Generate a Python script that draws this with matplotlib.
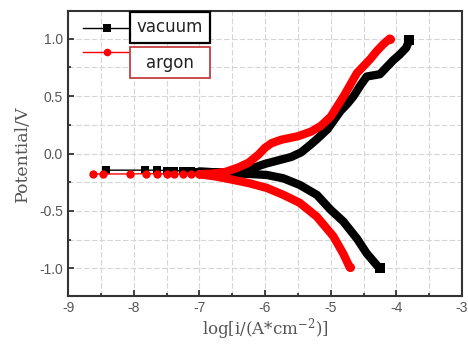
import matplotlib
matplotlib.use("Agg")
import matplotlib.pyplot as plt
from matplotlib.lines import Line2D
from matplotlib.patches import Rectangle
from matplotlib.ticker import MultipleLocator

# ---- data (log i, potential) ----
vac_cath_x = [-7.0, -6.7, -6.5, -6.23, -5.97, -5.72, -5.47, -5.21, -5.0, -4.81, -4.6, -4.45, -4.3, -4.25]
vac_cath_E = [-0.158, -0.165, -0.172, -0.178, -0.187, -0.216, -0.274, -0.36, -0.49, -0.59, -0.74, -0.87, -0.97, -1.0]
vac_near_x = [-8.42, -7.82, -7.65, -7.5, -7.38, -7.25, -7.12, -7.0]
vac_near_E = [-0.145, -0.145, -0.145, -0.148, -0.15, -0.15, -0.155, -0.158]
vac_anod_x = [-7.0, -6.7, -6.35, -6.2, -6.0, -5.8, -5.6, -5.45, -5.3, -5.2, -5.05, -4.95, -4.85, -4.75,
              -4.65, -4.55, -4.45, -4.35, -4.25, -4.15, -4.05, -3.95, -3.85, -3.8]
vac_anod_E = [-0.158, -0.165, -0.17, -0.13, -0.09, -0.06, -0.03, 0.01, 0.08, 0.13, 0.21, 0.29, 0.37, 0.43,
              0.50, 0.59, 0.67, 0.68, 0.69, 0.75, 0.81, 0.86, 0.92, 0.99]

arg_cath_x = [-7.0, -6.75, -6.48, -6.23, -5.97, -5.72, -5.47, -5.21, -4.96, -4.81, -4.71]
arg_cath_E = [-0.18, -0.2, -0.23, -0.26, -0.30, -0.36, -0.43, -0.55, -0.72, -0.87, -0.99]
arg_near_x = [-8.62, -8.47, -8.06, -7.81, -7.64, -7.5, -7.38, -7.25, -7.12, -7.0]
arg_near_E = [-0.178, -0.178, -0.178, -0.175, -0.175, -0.178, -0.178, -0.18, -0.18, -0.18]
arg_anod_x = [-7.0, -6.8, -6.6, -6.4, -6.25, -6.1, -6.0, -5.9, -5.75, -5.5, -5.3, -5.15, -5.0, -4.9,
              -4.8, -4.7, -4.6, -4.5, -4.4, -4.3, -4.2, -4.1]
arg_anod_E = [-0.18, -0.175, -0.16, -0.12, -0.08, -0.01, 0.05, 0.09, 0.12, 0.15, 0.19, 0.24, 0.32, 0.41,
              0.50, 0.60, 0.70, 0.76, 0.82, 0.89, 0.95, 1.0]

labels = ["vacuum", "argon"]
xticks = [-9, -8, -7, -6, -5, -4, -3]
yticks = [-1.0, -0.5, 0.0, 0.5, 1.0]

BLACK = "#000000"
RED = "#ff0000"

plt.rcParams["mathtext.fontset"] = "dejavuserif"
fig = plt.figure(figsize=(4.68, 3.47), dpi=100)
ax = fig.add_axes([68 / 468, 1 - 296 / 347, (462 - 68) / 468, (296 - 11) / 347])

ax.set_xlim(-9, -3)
ax.set_ylim(-1.24, 1.24)
ax.xaxis.set_minor_locator(MultipleLocator(0.5))
ax.yaxis.set_minor_locator(MultipleLocator(0.25))
ax.set_xticks(xticks)
ax.set_yticks(yticks)
ax.set_xticklabels([str(v) for v in xticks])
ax.set_yticklabels([f"{v:.1f}" for v in yticks])
ax.grid(True, which="both", color="#d6d6d6", linestyle=(0, (5, 2)), linewidth=0.8)
ax.set_axisbelow(True)
ax.tick_params(which="both", direction="in", colors="#333333", labelcolor="#555555",
               labelsize=10, width=1.3)
ax.tick_params(which="major", length=4)
ax.tick_params(which="minor", length=2.5)
for lab in ax.get_xticklabels() + ax.get_yticklabels():
    lab.set_family("Liberation Sans")
for s in ax.spines.values():
    s.set_color("#333333")
    s.set_linewidth(1.5)

def draw(cx, cE, nx, nE, axx, aE, color, marker):
    ax.plot(nx, nE, color=color, lw=1.0, marker=marker, ms=6, mew=0, zorder=3)
    for xs, es in ((cx, cE), (axx, aE)):
        ax.plot(xs, es, color=color, lw=6, solid_capstyle="round", solid_joinstyle="round",
                zorder=3)
        ax.plot(xs[-1:], es[-1:], color=color, lw=0, marker=marker, ms=6.5, mew=0, zorder=3)

draw(vac_cath_x, vac_cath_E, vac_near_x, vac_near_E, vac_anod_x, vac_anod_E, BLACK, "s")
draw(arg_cath_x, arg_cath_E, arg_near_x, arg_near_E, arg_anod_x, arg_anod_E, RED, "o")

ax.set_ylabel("Potential/V", family="DejaVu Serif", fontsize=12.5, color="#555555", labelpad=6)
ax.set_xlabel(r"log[i/(A*cm$^{-2}$)]", family="DejaVu Serif", fontsize=12, color="#555555", labelpad=1)

# ---- custom legend ----
W, H = 468, 347
def fx(p):
    return p / W
def fy(p):
    return 1 - p / H

for i, (lab, col, mk, ec, lw) in enumerate([
        (labels[0], BLACK, "s", "#000000", 1.6),
        (labels[1], RED, "o", "#c03030", 1.2)]):
    yc = 28 + i * 24
    fig.add_artist(Line2D([fx(83), fx(128)], [fy(yc), fy(yc)], color=col, lw=1.0,
                          transform=fig.transFigure))
    fig.add_artist(Line2D([fx(106.5)], [fy(yc)], color=col, marker=mk, ms=5.5, mew=0,
                          transform=fig.transFigure))
    top = 12 + i * 35
    fig.add_artist(Rectangle((fx(130), fy(top + 31)), fx(210) - fx(130), fy(top) - fy(top + 31),
                             transform=fig.transFigure, facecolor="white", edgecolor=ec, lw=lw,
                             zorder=5))
    fig.text(fx(170), fy(top + 15.5), lab, ha="center", va="center", fontsize=12,
             family="DejaVu Sans", color="#222222", zorder=6)

fig.savefig("out.png", dpi=100)
